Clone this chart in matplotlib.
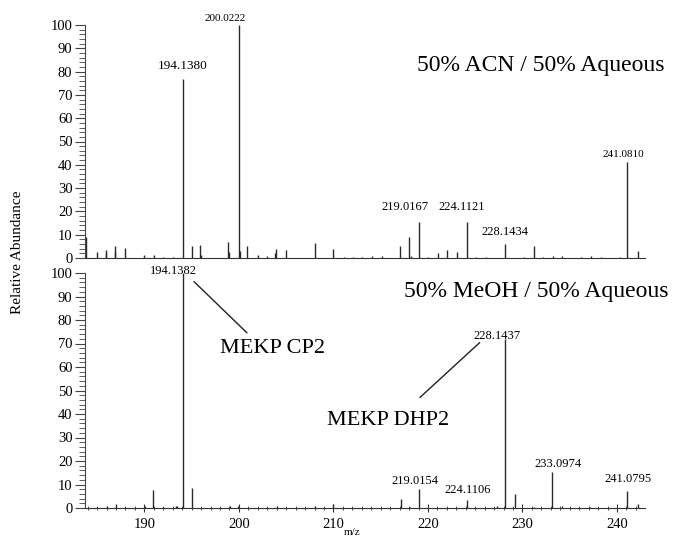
import numpy as np
import matplotlib.pyplot as plt
from matplotlib.ticker import MultipleLocator

plt.rcParams['font.family'] = ['Liberation Serif', 'DejaVu Serif']

# --- spectrum 1: 50% ACN ---
acn_mz = [183.83, 184.96, 185.9, 185.95, 186.85, 186.9, 187.96, 189.97, 191.0, 192.0,
          193.0, 194.138, 195.01, 195.9, 196.0, 198.9, 198.95, 200.0222, 200.1, 200.9,
          202.0, 202.95, 203.85, 203.9, 205.0, 208.07, 210.0, 211.07, 212.1, 213.07,
          214.06, 215.1, 217.06, 218.0, 218.2, 219.0167, 220.05, 221.1, 222.0, 223.06,
          224.1121, 225.1, 226.1, 228.1434, 230.2, 231.2, 232.2, 233.2, 234.2, 236.2,
          237.2, 238.3, 240.3, 241.081, 242.2]
acn_int = [9, 2.7, 2.0, 3.4, 2.5, 5, 4.4, 1.5, 1.5, 0.5,
           0.5, 77, 5.1, 5.5, 1.5, 6.7, 2.5, 100, 3, 5,
           1.5, 1, 2, 4, 3.3, 6.3, 3.9, 0.6, 0.6, 0.6,
           0.8, 0.8, 5.2, 9.1, 1, 15.6, 0.5, 2, 3.5, 2.5,
           15.6, 0.5, 0.5, 6, 0.6, 5.3, 0.6, 0.8, 0.8, 0.6,
           0.8, 0.6, 0.5, 41.3, 3.1]
acn_labels = ['194.1380', '200.0222', '219.0167', '224.1121', '228.1434', '241.0810']
acn_lab_x = [194.0, 198.54, 217.59, 223.62, 228.17, 240.66]
acn_lab_y = [82.5, 102.6, 22.0, 21.9, 11.2, 44.6]
acn_lab_size = [9.5, 8, 9, 9, 9, 8]

# --- spectrum 2: 50% MeOH ---
meoh_mz = [185.0, 186.1, 187.0, 188.0, 190.07, 190.9, 192.0, 193.3, 193.45, 194.1382,
           195.08, 199.07, 199.95, 204.0, 208.06, 210.0, 217.1, 218.1, 219.0154, 224.1106,
           227.3, 228.1437, 229.16, 231.2, 233.0974, 234.2, 237.1, 241.0795, 242.2]
meoh_int = [0.6, 0.8, 1.5, 0.6, 0.8, 7.5, 0.5, 1.0, 1.0, 100,
            8.3, 1.0, 0.8, 1.0, 1.0, 1.5, 4, 0.5, 8.2, 3.5,
            1.0, 72, 5.8, 0.5, 15.2, 1.0, 0.5, 7.4, 1.5]
meoh_labels = ['194.1382', '228.1437', '219.0154', '224.1106', '233.0974', '241.0795']
meoh_lab_x = [193.04, 227.32, 218.65, 224.25, 233.72, 241.13]
meoh_lab_y = [101.0, 73.2, 11.6, 7.7, 18.7, 12.3]

W, H = 674, 542
fig = plt.figure(figsize=(W / 100, H / 100), dpi=100)
ax1 = fig.add_axes([85 / W, 1 - 258 / H, 560 / W, 233 / H])
ax2 = fig.add_axes([85 / W, 1 - 508 / H, 560 / W, 235 / H])

peak_col = '#2a2a2a'
for ax in (ax1, ax2):
    ax.set_xlim(183.72, 242.96)
    ax.set_ylim(0, 100)
    for s in ('top', 'right'):
        ax.spines[s].set_visible(False)
    ax.spines['left'].set_color('#444444')
    ax.spines['bottom'].set_color('#333333')
    ax.yaxis.set_major_locator(MultipleLocator(10))
    ax.yaxis.set_minor_locator(MultipleLocator(2))
    ax.tick_params(axis='y', which='major', direction='out', length=7, width=0.8,
                   color='#444444', labelsize=10.5, pad=2)
    ax.tick_params(axis='y', which='minor', direction='out', length=4.5, width=0.6,
                   color='#444444')

# top panel: no x ticks
ax1.tick_params(axis='x', which='both', bottom=False, labelbottom=False)
ax1.vlines(acn_mz, 0, acn_int, color=peak_col, lw=1.0)
for t, x, y, fs in zip(acn_labels, acn_lab_x, acn_lab_y, acn_lab_size):
    ax1.text(x, y, t, ha='center', va='center', fontsize=fs, clip_on=False)
ax1.text(231.9, 82.8, '50% ACN / 50% Aqueous', ha='center', va='center', fontsize=17)

# bottom panel
ax2.xaxis.set_major_locator(MultipleLocator(10))
ax2.xaxis.set_minor_locator(MultipleLocator(1))
ax2.tick_params(axis='x', which='major', direction='inout', length=6, width=0.8,
                color='#333333', labelsize=10.5, pad=4)
ax2.tick_params(axis='x', which='minor', direction='inout', length=3, width=0.6,
                color='#333333')
ax2.vlines(meoh_mz, 0, meoh_int, color=peak_col, lw=1.0)
for t, x, y in zip(meoh_labels, meoh_lab_x, meoh_lab_y):
    ax2.text(x, y, t, ha='center', va='center', fontsize=9, clip_on=False)
ax2.text(231.45, 92.0, '50% MeOH / 50% Aqueous', ha='center', va='center', fontsize=17)

# compound call-outs
ax2.plot([195.26, 200.84], [96.3, 74.6], color='#222222', lw=1.0)
ax2.text(203.6, 67.7, 'MEKP CP2', ha='center', va='center', fontsize=16)
ax2.plot([219.17, 225.45], [47.1, 70.3], color='#222222', lw=1.0)
ax2.text(215.8, 37.2, 'MEKP DHP2', ha='center', va='center', fontsize=16)

ax2.set_xlabel('m/z', fontsize=8)
ax2.xaxis.set_label_coords((352 - 85) / 560, -0.085)
fig.text(18 / W, 1 - 252 / H, 'Relative Abundance', rotation=90, ha='center',
         va='center', fontsize=11)

fig.savefig('out.png', dpi=100)
